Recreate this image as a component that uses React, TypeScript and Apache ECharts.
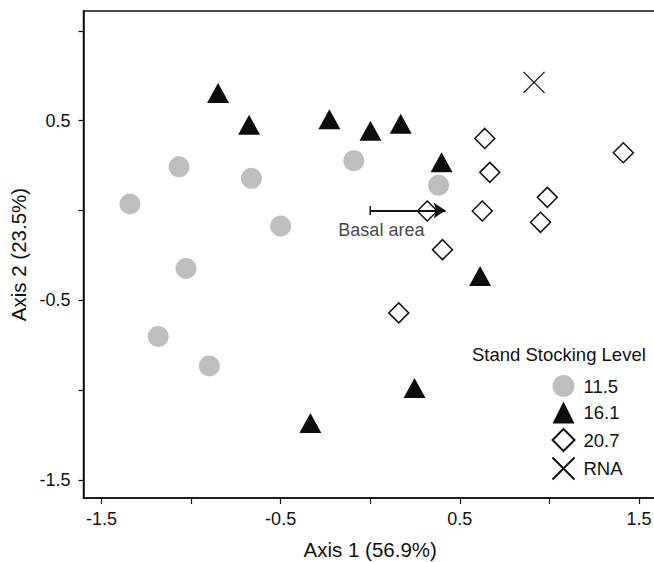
import React, { useEffect, useRef } from "react";
import * as echarts from "echarts";

const seriesNames = ["11.5", "16.1", "20.7", "RNA"];
const circleX = [-1.341, -1.067, -0.663, -0.5, -1.028, -1.183, -0.898, -0.092, 0.381];
const circleY = [0.036, 0.243, 0.179, -0.087, -0.323, -0.701, -0.865, 0.277, 0.141];
const triX = [-0.849, -0.676, -0.228, 0.001, 0.17, 0.398, 0.613, 0.247, -0.334];
const triY = [0.654, 0.477, 0.508, 0.444, 0.482, 0.268, -0.364, -0.988, -1.183];
const diaX = [0.639, 0.667, 1.412, 0.988, 0.95, 0.625, 0.318, 0.403, 0.159];
const diaY = [0.401, 0.212, 0.321, 0.073, -0.066, -0.003, -0.003, -0.218, -0.57];
const rnaX = [0.914];
const rnaY = [0.713];
const vectorStart = [0, 0];
const vectorEnd = [0.42, 0];
const vectorName = "Basal area";
const vectorLabelAt = [-0.178, -0.11];
const tickValues = [-1.5, -1, -0.5, 0, 0.5, 1, 1.5];
const labelValues = [-1.5, -0.5, 0.5, 1.5];

const zip = (xs: number[], ys: number[]) => xs.map((x, i) => [x, ys[i]]);

export default function App() {
  const ref = useRef<HTMLDivElement>(null);
  useEffect(() => {
    if (!ref.current) return;
    const chart = echarts.init(ref.current, null, { renderer: "svg" });
    const font = "'Liberation Sans', Arial, sans-serif";
    const ink = "#111111";
    chart.setOption({
      animation: false,
      textStyle: { fontFamily: font },
      grid: {
        left: 83.5,
        top: 11,
        right: -3,
        bottom: 64,
        outerBoundsMode: "none",
        containLabel: false,
        show: true,
        borderColor: ink,
        borderWidth: 1.5,
        backgroundColor: "transparent",
      },
      title: {
        text: "Stand Stocking Level",
        left: 472,
        top: 345,
        padding: 0,
        textStyle: { fontSize: 18.5, fontWeight: "normal", color: ink, fontFamily: font },
      },
      legend: {
        orient: "vertical",
        left: 551.5,
        top: 375,
        padding: 0,
        itemWidth: 22,
        itemHeight: 22,
        itemGap: 4.5,
        data: seriesNames,
        textStyle: { fontSize: 18.5, color: ink, padding: [0, 0, 0, 4] },
        selectedMode: false,
      },
      xAxis: {
        type: "value",
        min: -1.6,
        max: 1.6,
        name: "Axis 1 (56.9%)",
        nameLocation: "middle",
        nameGap: 41,
        nameTextStyle: { fontSize: 20.5, color: ink, verticalAlign: "top", lineHeight: 21 },
        splitLine: { show: false },
        axisLine: { show: true, onZero: false, lineStyle: { color: ink, width: 1.5 } },
        axisTick: { show: true, length: 6, customValues: tickValues, lineStyle: { color: ink, width: 1.2 } },
        axisLabel: { customValues: labelValues, fontSize: 18, color: ink, margin: 12, formatter: (v: number) => String(v) },
      },
      yAxis: {
        type: "value",
        min: -1.6,
        max: 1.11,
        name: "Axis 2 (23.5%)",
        nameLocation: "middle",
        nameGap: 54,
        nameTextStyle: { fontSize: 20.5, color: ink },
        splitLine: { show: false },
        axisLine: { show: true, onZero: false, lineStyle: { color: ink, width: 1.5 } },
        axisTick: { show: true, length: 5, customValues: tickValues, lineStyle: { color: ink, width: 1.2 } },
        axisLabel: { customValues: labelValues, fontSize: 18, color: ink, margin: 13, formatter: (v: number) => String(v) },
      },
      series: [
        {
          name: seriesNames[0],
          type: "scatter",
          symbol: "circle",
          symbolSize: 21,
          data: zip(circleX, circleY),
          itemStyle: { color: "#bebebe", opacity: 1 },
          emphasis: { disabled: true },
        },
        {
          name: seriesNames[1],
          type: "scatter",
          symbol: "triangle",
          symbolSize: [22, 20],
          data: zip(triX, triY),
          itemStyle: { color: "#0d0d0d", opacity: 1 },
          emphasis: { disabled: true },
        },
        {
          name: seriesNames[2],
          type: "scatter",
          symbol: "diamond",
          symbolSize: 20,
          data: zip(diaX, diaY),
          itemStyle: { color: "#ffffff", borderColor: "#111111", borderWidth: 1.5, opacity: 1 },
          emphasis: { disabled: true },
        },
        {
          name: seriesNames[3],
          type: "scatter",
          symbol: "path://M0,0L20,20M20,0L0,20",
          symbolSize: 21,
          data: zip(rnaX, rnaY),
          itemStyle: { color: "rgba(0,0,0,0)", borderColor: "#111111", borderWidth: 1.3, opacity: 1 },
          emphasis: { disabled: true },
        },
        {
          name: "vectorTail",
          type: "scatter",
          symbol: "rect",
          symbolSize: [1.5, 9],
          data: [vectorStart],
          itemStyle: { color: "#111111", opacity: 1 },
          emphasis: { disabled: true },
          markLine: {
            silent: true,
            symbol: ["none", "arrow"],
            symbolSize: 12,
            label: { show: false },
            lineStyle: { color: "#111111", width: 1.8, type: "solid", opacity: 1 },
            data: [[{ coord: vectorStart }, { coord: vectorEnd }]],
          },
        },
        {
          name: "vectorLabel",
          type: "scatter",
          symbol: "circle",
          symbolSize: 0,
          data: [vectorLabelAt],
          itemStyle: { color: "rgba(0,0,0,0)" },
          emphasis: { disabled: true },
          label: {
            show: true,
            position: "right",
            distance: 0,
            formatter: vectorName,
            fontSize: 18,
            color: ink,
          },
        },
      ],
    });
    return () => chart.dispose();
  }, []);
  return (
    <div
      ref={ref}
      style={{ position: "fixed", left: 0, top: 0, width: 654, height: 562, background: "#fff" }}
    />
  );
}
